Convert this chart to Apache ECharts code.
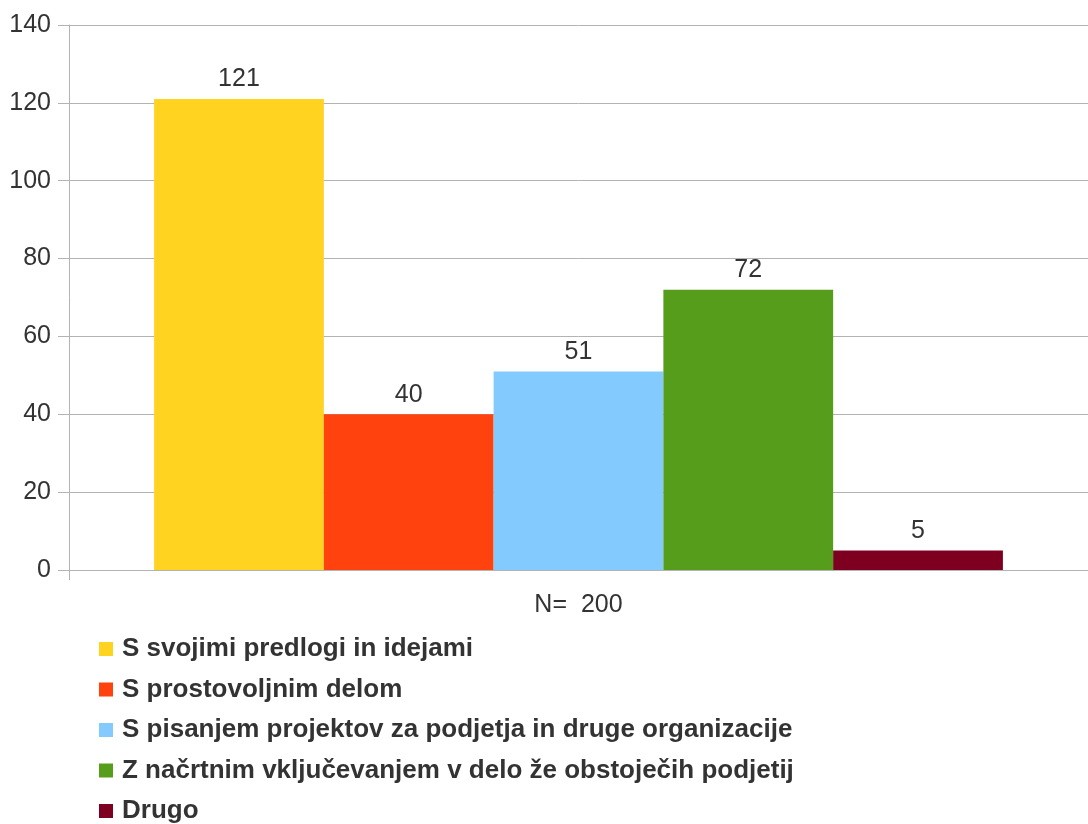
<!DOCTYPE html>
<html>
<head>
<meta charset="utf-8">
<script src="https://cdn.jsdelivr.net/npm/echarts@6/dist/echarts.min.js"></script>
<style>
  html, body { margin: 0; padding: 0; background: #fff; }
  #chart { width: 1088px; height: 824px; }
</style>
</head>
<body>
<div id="chart"></div>
<script>
// podatki
const categories = ['N=  200']
const seriesNames = [
    'S svojimi predlogi in idejami',
    'S prostovoljnim delom',
    'S pisanjem projektov za podjetja in druge organizacije',
    'Z načrtnim vključevanjem v delo že obstoječih podjetij',
    'Drugo'
]
const seriesValues = [121, 40, 51, 72, 5]
const seriesColors = ['#ffd320', '#ff420e', '#83caff', '#579d1c', '#7e0021']
const yTicks = [0, 20, 40, 60, 80, 100, 120, 140]

const myEcharts = echarts.init(document.getElementById('chart'))

const font = 'Liberation Sans, Arial, sans-serif'

myEcharts.setOption({
    animation: false,
    textStyle: { fontFamily: font },
    //布局
    grid: {
        left: 69,
        width: 1029,
        top: 25,
        bottom: 254
    },
    xAxis: {
        type: 'category',
        data: categories,
        axisLine: { lineStyle: { color: '#b3b3b3', width: 1 } },
        axisTick: { show: true, length: 10, lineStyle: { color: '#b3b3b3' } },
        axisLabel: { color: '#333', fontSize: 25, margin: 23, fontFamily: font }
    },
    yAxis: {
        type: 'value',
        min: yTicks[0],
        max: yTicks[yTicks.length - 1],
        interval: 20,
        axisLine: { show: true, lineStyle: { color: '#b3b3b3', width: 1 } },
        axisTick: { show: true, length: 11, lineStyle: { color: '#b3b3b3' } },
        splitLine: { lineStyle: { color: '#b3b3b3', width: 1 } },
        axisLabel: { color: '#333', fontSize: 25, margin: 18, padding: [6, 0, 0, 0], fontFamily: font }
    },
    legend: {
        orient: 'vertical',
        left: 99,
        top: 636,
        height: 200,
        padding: 0,
        icon: 'rect',
        itemWidth: 14,
        itemHeight: 14,
        itemGap: 14.5,
        data: seriesNames,
        textStyle: {
            color: '#333',
            fontSize: 26,
            fontWeight: 'bold',
            lineHeight: 26,
            padding: [0, 0, 0, 4],
            fontFamily: font
        }
    },
    series: seriesNames.map((name, i) => ({
        name: name,
        type: 'bar',
        data: [seriesValues[i]],
        barGap: 0,
        barCategoryGap: '16.7%',
        itemStyle: { color: seriesColors[i] },
        label: {
            show: true,
            position: 'top',
            distance: 7,
            color: '#333',
            fontSize: 25,
            fontFamily: font
        }
    }))
})
</script>
</body>
</html>
